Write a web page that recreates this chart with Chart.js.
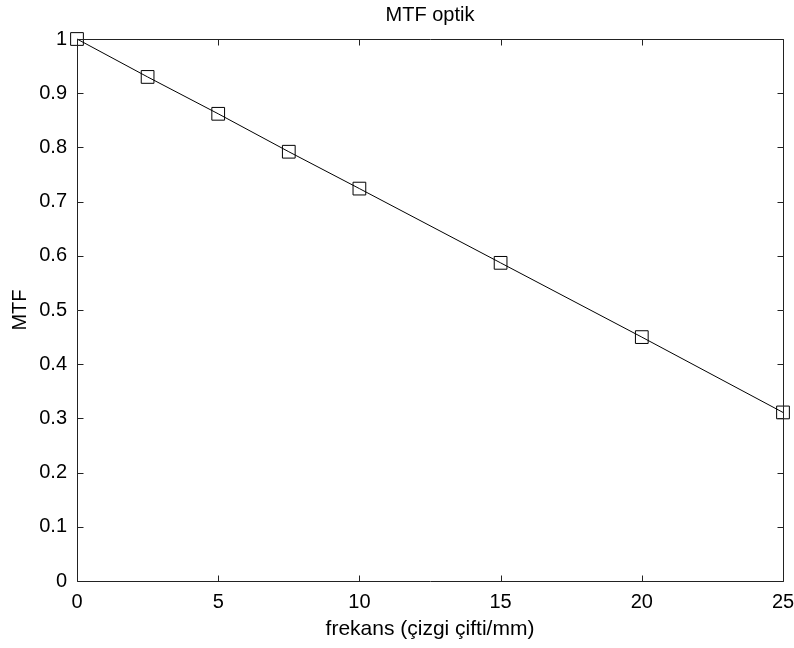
<!DOCTYPE html>
<html lang="tr">
<head>
<meta charset="UTF-8">
<title>MTF optik</title>
<script src="https://cdn.jsdelivr.net/npm/chart.js"></script>
<style>
  body { margin: 0; background: #fff; }
</style>
</head>
<body>
<canvas id="myChart" width="794" height="648"></canvas>
<script>
// veriler
const frekans = [0, 2.5, 5, 7.5, 10, 15, 20, 25];
const mtf = [1.0, 0.93, 0.862, 0.792, 0.724, 0.587, 0.45, 0.311];
const xTicks = [0, 5, 10, 15, 20, 25];
const yTicks = [0, 0.1, 0.2, 0.3, 0.4, 0.5, 0.6, 0.7, 0.8, 0.9, 1];

const FONT = "'Liberation Sans', Arial, Helvetica, sans-serif";

// matlab tarzi kutu ve iceri bakan tick cizgileri
const boxPlugin = {
  id: 'box',
  afterDraw(chart) {
    const ctx = chart.ctx;
    const a = chart.chartArea;
    const xs = chart.scales.x, ys = chart.scales.y;
    const L = Math.round(a.left) + 0.5, R = Math.round(a.right) + 0.5;
    const T = Math.round(a.top) + 0.5, B = Math.round(a.bottom) + 0.5;
    const tl = 6;
    ctx.save();
    ctx.strokeStyle = '#222';
    ctx.lineWidth = 1;
    ctx.beginPath();
    ctx.rect(L, T, R - L, B - T);
    xTicks.forEach(v => {
      const px = Math.round(xs.getPixelForValue(v)) + 0.5;
      ctx.moveTo(px, B); ctx.lineTo(px, B - tl);
      ctx.moveTo(px, T); ctx.lineTo(px, T + tl);
    });
    yTicks.forEach(v => {
      const py = Math.round(ys.getPixelForValue(v)) + 0.5;
      ctx.moveTo(L, py); ctx.lineTo(L + tl, py);
      ctx.moveTo(R, py); ctx.lineTo(R - tl, py);
    });
    ctx.stroke();
    ctx.restore();
  }
};

const ctx = document.getElementById('myChart').getContext('2d');
new Chart(ctx, {
  type: 'line',
  data: {
    datasets: [{
      data: frekans.map((f, i) => ({ x: f, y: mtf[i] })),
      borderColor: '#000',
      borderWidth: 1,
      pointStyle: 'rect',
      pointRadius: 9,
      pointBorderColor: '#000',
      pointBackgroundColor: 'rgba(0,0,0,0)',
      pointBorderWidth: 1,
      tension: 0,
      clip: false
    }]
  },
  options: {
    responsive: false,
    animation: false,
    layout: { padding: { left: 0, right: 11, top: 0, bottom: 0 } },
    plugins: {
      legend: { display: false },
      tooltip: { enabled: false },
      title: {
        display: true,
        fullSize: false, // grafik alaninin ortasina
        text: 'MTF optik',
        color: '#000',
        font: { family: FONT, size: 20, weight: 'normal' },
        padding: { top: 3, bottom: 12 }
      }
    },
    scales: {
      x: {
        type: 'linear',
        min: 0,
        max: 25,
        afterBuildTicks: s => { s.ticks = xTicks.map(v => ({ value: v })); },
        afterFit: s => { s.height = 67; s.paddingLeft = 0; s.paddingRight = 0; },
        grid: { display: false, drawTicks: false },
        border: { display: false },
        ticks: { color: '#000', padding: 9, font: { family: FONT, size: 20 }, maxRotation: 0, callback: v => String(v) },
        title: {
          display: true,
          text: 'frekans (çizgi çifti/mm)',
          color: '#000',
          font: { family: FONT, size: 21 },
          padding: { top: 0, bottom: 6 }
        }
      },
      y: {
        min: 0,
        max: 1,
        afterBuildTicks: s => { s.ticks = yTicks.map(v => ({ value: v })); },
        afterFit: s => { s.width = 77; s.paddingTop = 0; s.paddingBottom = 0; },
        grid: { display: false, drawTicks: false },
        border: { display: false },
        ticks: { color: '#000', padding: 10, font: { family: FONT, size: 20 }, callback: v => String(v) },
        title: {
          display: true,
          text: 'MTF',
          color: '#000',
          font: { family: FONT, size: 20 },
          padding: { top: 8, bottom: 0 }
        }
      }
    }
  },
  plugins: [boxPlugin]
});
</script>
</body>
</html>
